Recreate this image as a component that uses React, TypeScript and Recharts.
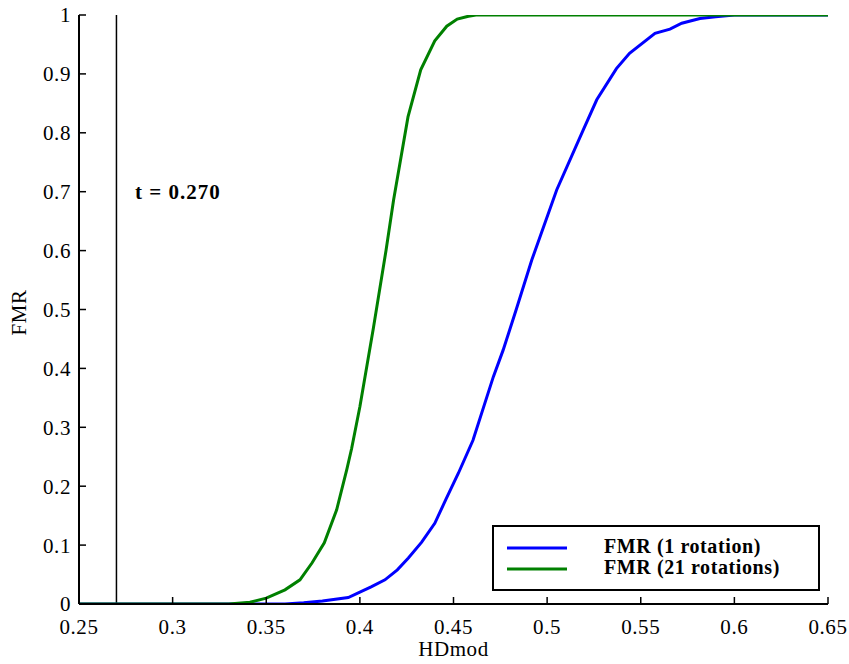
import { Legend, Line, LineChart, ReferenceDot, ReferenceLine, XAxis, YAxis } from "recharts"

const SERIF = "Liberation Serif"

// HDmod / FMR samples
const oneRotX = [0.25, 0.36, 0.37, 0.38, 0.3938, 0.4, 0.406, 0.4134, 0.42, 0.4259, 0.433, 0.44, 0.446, 0.4526, 0.4604, 0.4713, 0.4765, 0.4835, 0.4918, 0.5051, 0.5193, 0.5265, 0.537, 0.544, 0.5576, 0.5656, 0.5719, 0.5816, 0.59, 0.6, 0.65]
const oneRotY = [0, 0, 0.002, 0.005, 0.011, 0.02, 0.029, 0.041, 0.058, 0.078, 0.105, 0.137, 0.178, 0.222, 0.278, 0.386, 0.431, 0.5, 0.584, 0.703, 0.805, 0.856, 0.909, 0.935, 0.969, 0.976, 0.986, 0.994, 0.997, 1, 1]

const manyRotX = [0.25, 0.33, 0.3413, 0.35, 0.36, 0.368, 0.3745, 0.381, 0.3876, 0.393, 0.3956, 0.4, 0.4072, 0.414, 0.418, 0.4257, 0.4325, 0.44, 0.4464, 0.452, 0.458, 0.462, 0.65]
const manyRotY = [0, 0, 0.003, 0.01, 0.024, 0.041, 0.07, 0.104, 0.16, 0.228, 0.264, 0.335, 0.468, 0.601, 0.686, 0.827, 0.907, 0.956, 0.981, 0.993, 0.998, 1, 1]

const seriesNames = ["FMR (1 rotation)", "FMR (21 rotations)"]
const seriesColors = ["#0000ff", "#008000"]

const xTicks = [0.25, 0.3, 0.35, 0.4, 0.45, 0.5, 0.55, 0.6, 0.65]
const yTicks = [0, 0.1, 0.2, 0.3, 0.4, 0.5, 0.6, 0.7, 0.8, 0.9, 1]

const threshold = 0.27
const thresholdText = "t = 0.270"
const thresholdTextAt = { x: 0.2799, y: 0.701 }

const oneRot = oneRotX.map((x, i) => ({ x, y: oneRotY[i] }))
const manyRot = manyRotX.map((x, i) => ({ x, y: manyRotY[i] }))

const tickStyle = { fontFamily: SERIF, fontSize: 21, fill: "#000", letterSpacing: 0.6 }

function LegendBox() {
  return (
    <div
      style={{
        width: 324,
        height: 62,
        border: "2px solid #000",
        background: "#fff",
        fontFamily: SERIF,
        fontWeight: "bold",
        fontSize: 20,
        letterSpacing: 0.6,
        position: "relative",
      }}
    >
      {seriesNames.map((name, i) => (
        <div key={name} style={{ position: "absolute", left: 0, top: 10 + i * 21, height: 21, width: 324 }}>
          <svg width={80} height={21} style={{ position: "absolute", left: 0, top: 0 }}>
            <line x1={13} x2={73} y1={11} y2={11} stroke={seriesColors[i]} strokeWidth={3} />
          </svg>
          <span style={{ position: "absolute", left: 110, top: -2, lineHeight: "23px", whiteSpace: "nowrap" }}>{name}</span>
        </div>
      ))}
    </div>
  )
}

export default function App() {
  return (
    <div style={{ position: "absolute", left: 0, top: 0, width: 849, height: 664, background: "#fff", fontFamily: SERIF }}>
      <LineChart width={849} height={664} margin={{ top: 15, right: 21, left: 0, bottom: 0 }} style={{ fontFamily: SERIF }}>
        <XAxis
          xAxisId={0}
          type="number"
          dataKey="x"
          domain={[0.25, 0.65]}
          ticks={xTicks}
          allowDataOverflow
          height={60}
          tick={tickStyle}
          tickSize={-7}
          tickMargin={22}
          axisLine={{ stroke: "#000", strokeWidth: 2 }}
          tickLine={{ stroke: "#000", strokeWidth: 1.5 }}
          label={{ value: "HDmod", position: "insideBottom", offset: 8, style: { fontFamily: SERIF, fontSize: 21, fill: "#000", letterSpacing: 0.6 } }}
        />
        <XAxis
          xAxisId="top"
          orientation="top"
          type="number"
          dataKey="x"
          domain={[0.25, 0.65]}
          ticks={xTicks}
          allowDataOverflow
          height={0}
          tickSize={-7}
          tickFormatter={() => ""}
          axisLine={{ stroke: "#000", strokeWidth: 2 }}
          tickLine={{ stroke: "#000", strokeWidth: 1.5 }}
        />
        <YAxis
          yAxisId={0}
          type="number"
          domain={[0, 1]}
          ticks={yTicks}
          allowDataOverflow
          width={79}
          tick={tickStyle}
          tickSize={-7}
          tickMargin={15}
          axisLine={{ stroke: "#000", strokeWidth: 2 }}
          tickLine={{ stroke: "#000", strokeWidth: 1.5 }}
          label={{
            content: ({ viewBox }: any) => (
              <text
                x={18.5}
                y={viewBox.y + viewBox.height / 2 + 3}
                transform={`rotate(-90 18.5 ${viewBox.y + viewBox.height / 2 + 3})`}
                textAnchor="middle"
                dominantBaseline="central"
                fontFamily={SERIF}
                fontSize={21}
                fill="#000"
                style={{ letterSpacing: 0.6 }}
              >
                FMR
              </text>
            ),
          }}
        />
        <YAxis
          yAxisId="right"
          orientation="right"
          type="number"
          domain={[0, 1]}
          ticks={yTicks}
          allowDataOverflow
          width={0}
          tickSize={-7}
          tickFormatter={() => ""}
          axisLine={{ stroke: "#000", strokeWidth: 2 }}
          tickLine={{ stroke: "#000", strokeWidth: 1.5 }}
        />
        <ReferenceLine x={threshold} stroke="#000" strokeWidth={1.5} ifOverflow="extendDomain" />
        <ReferenceDot
          x={thresholdTextAt.x}
          y={thresholdTextAt.y}
          r={0}
          fill="none"
          stroke="none"
          label={{
            value: thresholdText,
            position: "right",
            offset: 0,
            style: { fontFamily: SERIF, fontSize: 21, fontWeight: "bold", fill: "#000", letterSpacing: 1 },
          }}
        />
        <Line
          data={oneRot}
          dataKey="y"
          name={seriesNames[0]}
          stroke={seriesColors[0]}
          strokeWidth={3}
          dot={false}
          activeDot={false}
          isAnimationActive={false}
        />
        <Line
          data={manyRot}
          dataKey="y"
          name={seriesNames[1]}
          stroke={seriesColors[1]}
          strokeWidth={3}
          dot={false}
          activeDot={false}
          isAnimationActive={false}
        />
        <Legend
          layout="horizontal"
          align="center"
          verticalAlign="middle"
          content={() => <LegendBox />}
          wrapperStyle={{ position: "absolute", left: 492, top: 525, width: 328, height: 66 }}
        />
      </LineChart>
    </div>
  )
}
